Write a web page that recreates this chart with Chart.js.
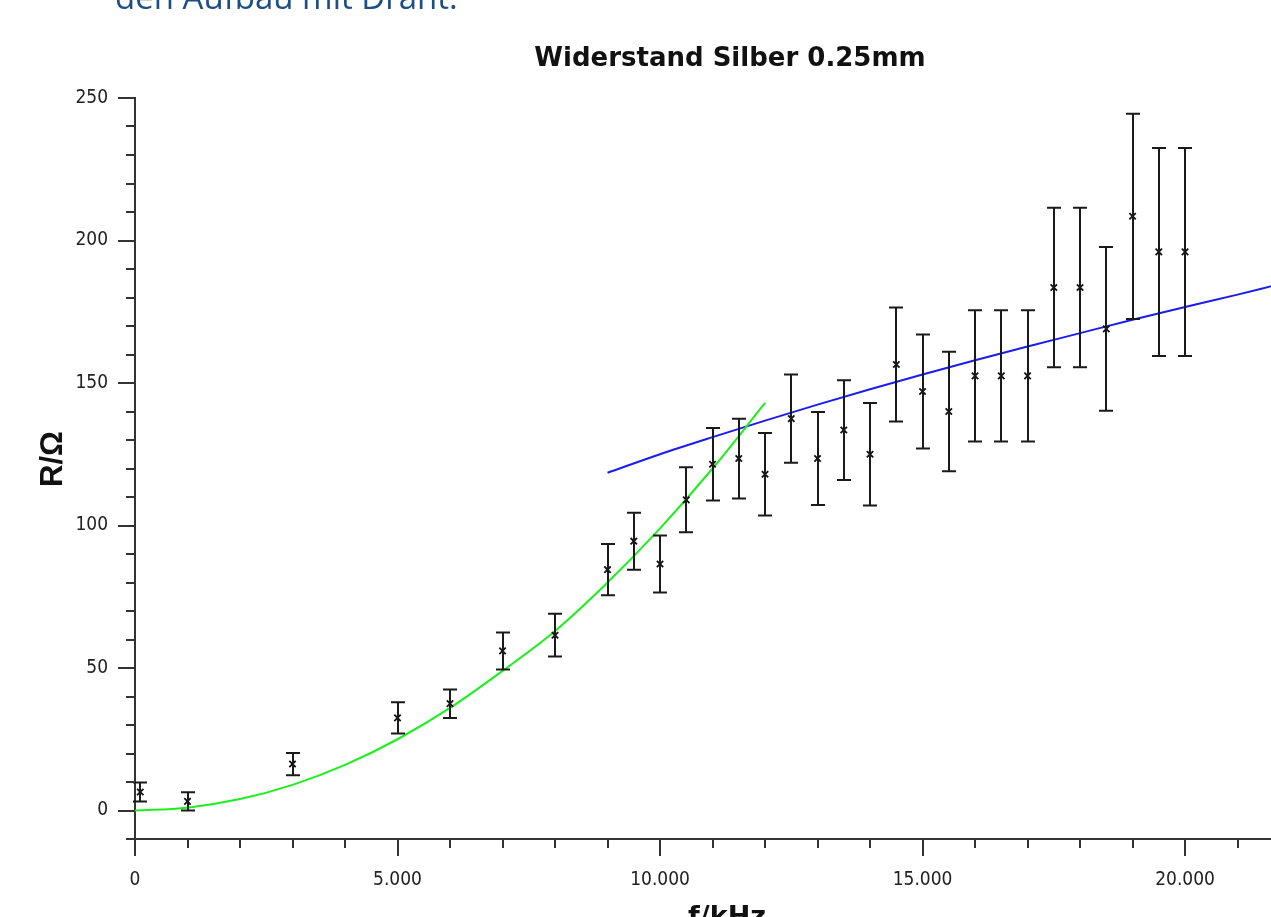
<!DOCTYPE html>
<html>
<head>
<meta charset="utf-8">
<title>Widerstand Silber 0.25mm</title>
<script src="https://cdn.jsdelivr.net/npm/chart.js@4.4.1/dist/chart.umd.min.js"></script>
<style>
    html, body { margin: 0; padding: 0; background: #fff; overflow: hidden; }
    #wrap { position: relative; width: 1271px; height: 917px; overflow: hidden; }
    #chart { position: absolute; left: 0; top: 0; }
    #slideText {
        position: absolute; left: 115px; top: -20px; z-index: 2;
        font: 33px/1 "Open Sans", sans-serif; color: #1f4e87; white-space: nowrap;
    }
</style>
</head>
<body>
<div id="wrap">
    <!-- etwas breiter als das Fenster: der Plot ist rechts abgeschnitten -->
    <canvas id="chart" width="1278" height="917"></canvas>
    <div id="slideText">den Aufbau mit Draht.</div>
</div>
<script>
// Messwerte (f in Hz, R in Ohm, Fehler in Ohm)
const freq = [100, 1000, 3000, 5000, 6000, 7000, 8000, 9000, 9500, 10000,
    10500, 11000, 11500, 12000, 12500, 13000, 13500, 14000, 14500, 15000,
    15500, 16000, 16500, 17000, 17500, 18000, 18500, 19000, 19500, 20000];
const resistance = [6.5, 3.2, 16.3, 32.5, 37.5, 56, 61.5, 84.5, 94.5, 86.5,
    109, 121.5, 123.5, 118, 137.5, 123.5, 133.5, 125, 156.5, 147,
    140, 152.5, 152.5, 152.5, 183.5, 183.5, 169, 208.5, 196, 196];
const resistanceErr = [3.3, 3.2, 3.9, 5.5, 5, 6.5, 7.5, 9, 10, 10,
    11.4, 12.7, 14, 14.5, 15.5, 16.3, 17.5, 18, 20, 20,
    21, 23, 23, 23, 28, 28, 28.7, 36, 36.5, 36.5];

// Fit fuer niedrige Frequenzen (gruen)
const fitLowFreq = [0, 1000, 2000, 3000, 4000, 5000, 6000, 7000, 8000, 9000, 10000, 11000, 12000];
const fitLowR = [0, 1, 4, 9, 16, 25, 36, 49, 63, 80, 99, 120, 143];

// Fit fuer hohe Frequenzen (blau)
const fitHighFreq = [9000, 10000, 11000, 12000, 13000, 14000, 15000, 16000, 17000, 18000, 19000, 20000, 21000, 21650];
const fitHighR = [118.5, 125, 131, 136.8, 142.4, 147.8, 153, 158, 162.8, 167.5, 172.2, 176.7, 181, 184];

// Achsenbeschriftung
const xTickLabels = ['0', '5.000', '10.000', '15.000', '20.000'];
const yTickLabels = ['0', '50', '100', '150', '200', '250'];
const xMinorStep = 1000, xMajorStep = 5000;
const yMinorStep = 10, yMajorStep = 50;

const tickFont = { family: '"DejaVu Sans Condensed", "DejaVu Sans", sans-serif', size: 19 };
const axisColor = '#333';

// Major/Minor Ticks
const axisTicks = {
    id: 'axisTicks',
    afterDraw(chart) {
        const { ctx, chartArea } = chart;
        const { x, y } = chart.scales;
        ctx.save();
        ctx.strokeStyle = axisColor;
        ctx.lineWidth = 2;
        ctx.beginPath();
        x.ticks.forEach(t => {
            const px = Math.round(x.getPixelForValue(t.value));
            const len = t.value % xMajorStep === 0 ? 17 : 9;
            ctx.moveTo(px, chartArea.bottom);
            ctx.lineTo(px, chartArea.bottom + len);
        });
        y.ticks.forEach(t => {
            const py = Math.round(y.getPixelForValue(t.value));
            const len = t.value % yMajorStep === 0 ? 17 : 9;
            ctx.moveTo(chartArea.left, py);
            ctx.lineTo(chartArea.left - len, py);
        });
        ctx.stroke();
        ctx.restore();
    }
};

// Fehlerbalken
const errorBars = {
    id: 'errorBars',
    afterDatasetsDraw(chart) {
        const { ctx } = chart;
        const { x, y } = chart.scales;
        ctx.save();
        ctx.strokeStyle = '#1a1a1a';
        ctx.lineWidth = 2;
        ctx.beginPath();
        freq.forEach((f, i) => {
            const px = Math.round(x.getPixelForValue(f));
            const top = y.getPixelForValue(resistance[i] + resistanceErr[i]);
            const bottom = y.getPixelForValue(resistance[i] - resistanceErr[i]);
            ctx.moveTo(px, top); ctx.lineTo(px, bottom);
            ctx.moveTo(px - 7, top); ctx.lineTo(px + 7, top);
            ctx.moveTo(px - 7, bottom); ctx.lineTo(px + 7, bottom);
        });
        ctx.stroke();
        ctx.restore();
    }
};

// Titel und Achsentitel
const chartLabels = {
    id: 'chartLabels',
    afterDraw(chart) {
        const { ctx } = chart;
        ctx.save();
        ctx.fillStyle = '#111';
        ctx.textAlign = 'center';
        ctx.textBaseline = 'alphabetic';
        ctx.font = 'bold 26px "DejaVu Sans", sans-serif';
        ctx.fillText('Widerstand Silber 0.25mm', 730, 66);
        ctx.font = 'bold 27px "DejaVu Sans", sans-serif';
        ctx.fillText('f/kHz', 727, 925);
        ctx.translate(62, 459);
        ctx.rotate(-Math.PI / 2);
        ctx.font = 'bold 31px "Liberation Sans", Arial, sans-serif';
        ctx.fillText('R/\u03A9', 0, 0);
        ctx.restore();
    }
};

// Ticks alle 1000 Hz bzw. 10 Ohm
const stepTicks = step => scale => {
    const ticks = [];
    for (let v = Math.ceil(scale.min / step) * step; v <= scale.max; v += step) ticks.push({ value: v });
    scale.ticks = ticks;
};

new Chart(document.getElementById('chart'), {
    type: 'scatter',
    data: {
        datasets: [
            {
                label: 'Messwerte',
                data: freq.map((f, i) => ({ x: f, y: resistance[i] })),
                pointStyle: 'crossRot',
                pointRadius: 4.5,
                pointBorderWidth: 1.8,
                borderColor: '#111',
                backgroundColor: 'transparent'
            },
            {
                label: 'Fit niedrig',
                data: fitLowFreq.map((f, i) => ({ x: f, y: fitLowR[i] })),
                showLine: true,
                pointRadius: 0,
                borderColor: '#1cf01c',
                borderWidth: 2,
                cubicInterpolationMode: 'monotone'
            },
            {
                label: 'Fit hoch',
                data: fitHighFreq.map((f, i) => ({ x: f, y: fitHighR[i] })),
                showLine: true,
                pointRadius: 0,
                borderColor: '#1c1cf0',
                borderWidth: 2,
                cubicInterpolationMode: 'monotone'
            }
        ]
    },
    options: {
        responsive: false,
        animation: false,
        devicePixelRatio: 1,
        layout: { padding: { top: 98, left: 0, right: 0, bottom: 0 } },
        plugins: {
            legend: { display: false },
            tooltip: { enabled: false },
            title: { display: false }
        },
        scales: {
            x: {
                type: 'linear',
                min: 0,
                max: 21650,
                grid: { display: false, drawTicks: false },
                border: { display: true, color: axisColor, width: 2 },
                ticks: {
                    autoSkip: false,
                    maxRotation: 0,
                    padding: 30,
                    color: '#222',
                    font: tickFont,
                    callback: v => v % xMajorStep === 0 ? xTickLabels[v / xMajorStep] : ''
                },
                afterBuildTicks: stepTicks(xMinorStep),
                afterFit: s => { s.height = 78; }
            },
            y: {
                type: 'linear',
                min: -10,
                max: 250,
                grid: { display: false, drawTicks: false },
                border: { display: true, color: axisColor, width: 2 },
                ticks: {
                    autoSkip: false,
                    padding: 27,
                    color: '#222',
                    font: tickFont,
                    callback: v => v >= 0 && v % yMajorStep === 0 ? yTickLabels[v / yMajorStep] : ''
                },
                afterBuildTicks: stepTicks(yMinorStep),
                afterFit: s => { s.width = 135; }
            }
        }
    },
    plugins: [axisTicks, errorBars, chartLabels]
});
</script>
</body>
</html>
